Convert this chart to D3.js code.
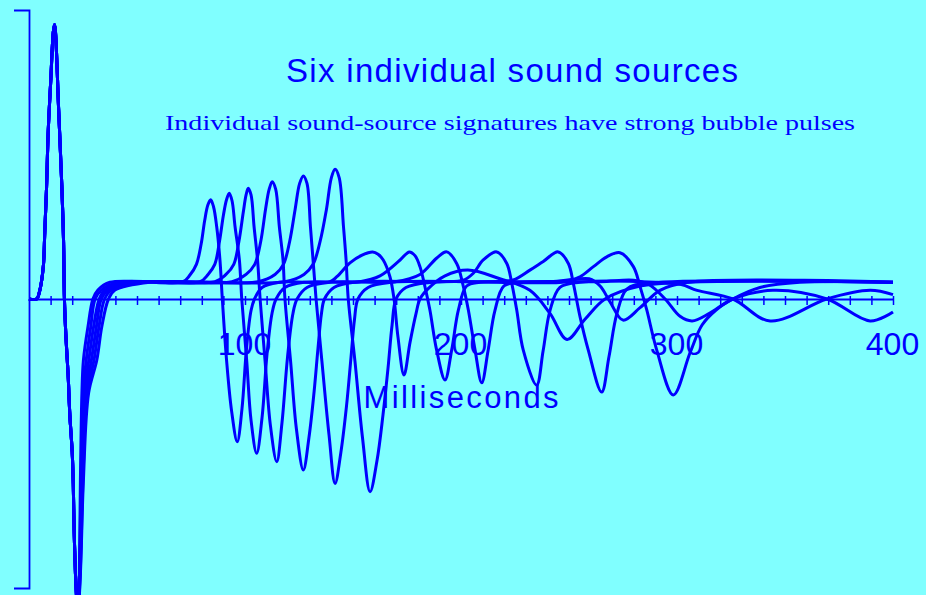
<!DOCTYPE html>
<html lang="en">
<head>
<meta charset="UTF-8">
<title>Six individual sound sources</title>
<script src="https://d3js.org/d3.v7.min.js"></script>
<style>
  body { margin: 0; background: #80ffff; }
  svg { display: block; }
</style>
</head>
<body>
<svg></svg>
<script>
// [milliseconds, amplitude]
const onset = [[0,0],[3.5,0],[5.0,0.03],[6.6,0.11],[7.3,0.23],[8.1,0.38],[8.9,0.58],[10.1,0.76],[11.2,0.92],[11.8,0.95],[12.2,0.93],[13.7,0.66],[15.2,0.39],[16.0,0.2],[16.4,0],[17.1,-0.13],[18.1,-0.26],[18.9,-0.40],[20.0,-0.53],[20.5,-0.64],[20.9,-0.8],[21.5,-0.95],[22.0,-1.03],[22.6,-1.1]];

const source1 = [[23.3,-0.95],[23.8,-0.625],[24.5,-0.325],[25.2,-0.211],[27.3,-0.096],[29.6,0],[31.9,0.031],[37.5,0.058],
  [71.3,0.06],[74.5,0.083],[77.5,0.12],[79.7,0.19],[81.3,0.27],[82.8,0.325],[84.1,0.343],[85.4,0.32],[86.9,0.25],[88.4,0.135],[89.5,0],[91.5,-0.215],[93.8,-0.388],[96.4,-0.494],[98.6,-0.38],[100.7,-0.17],[102.8,-0.04],[104.4,0],[107.9,0.04],[116.2,0.058],
  [139.4,0.06],[142.5,0.077],[148.6,0.125],[154.2,0.152],[159.1,0.163],[161.6,0.155],[164.0,0.135],[167.1,0.077],[169.0,0],[170.8,-0.13],[173.6,-0.263],[176.4,-0.15],[179.2,-0.05],[181.0,0],
  [184.7,0.035],[192.6,0.08],[203.2,0.1],[218,0.07],[231.9,0.03],[241.2,-0.05],[249.1,-0.14],[257.4,-0.07],[266.7,0],[282.9,0.045],[305,0.058],[400,0.058]];

const source2 = [[23.4,-0.95],[24.1,-0.625],[25.1,-0.325],[26.5,-0.211],[28.6,-0.096],[30.6,0],[33.5,0.031],[41.2,0.058],
  [79.2,0.06],[82.9,0.085],[86.0,0.12],[88.2,0.2],[90.0,0.29],[91.5,0.345],[92.7,0.366],[94.0,0.34],[95.4,0.25],[97.4,0.135],[98.5,0],[100.8,-0.215],[102.8,-0.42],[105.4,-0.534],[107.9,-0.41],[110.2,-0.19],[112.5,-0.05],[114.4,0],[118.5,0.04],[127.8,0.058],
  [153.2,0.06],[162.5,0.08],[171.8,0.135],[176.1,0.163],[178.7,0.15],[181.0,0.112],[183.3,0.043],[185.6,-0.038],[188.7,-0.176],[192.6,-0.28],[195.7,-0.176],[198.8,-0.038],[202.6,0.045],[208.8,0.058],
  [241.2,0.06],[252.8,0.068],[259.3,0.07],[264.4,0.045],[269,-0.01],[275,-0.073],[282.9,-0.03],[292.1,0.03],[305,0.058],[400,0.058]];

const source3 = [[23.5,-0.95],[24.4,-0.625],[25.7,-0.325],[27.7,-0.211],[29.9,-0.096],[32.5,0],[35.1,0.031],[44.9,0.058],
  [86.1,0.06],[91.2,0.085],[94.8,0.12],[97.2,0.2],[99.2,0.3],[100.5,0.36],[101.5,0.383],[102.8,0.36],[104.2,0.25],[105.8,0.135],[107.0,0],[109.3,-0.215],[111.8,-0.44],[114.7,-0.563],[117.1,-0.43],[119.7,-0.2],[122.2,-0.05],[124.1,0],[128.7,0.04],[139.4,0.058],
  [169.4,0.06],[181.0,0.085],[188.8,0.142],[193.4,0.163],[198.0,0.123],[201.1,0.043],[203.4,-0.038],[206.5,-0.176],[209.6,-0.29],[212.5,-0.18],[215.7,-0.04],[219.9,0.045],[227.3,0.058],
  [264.4,0.06],[280,0.065],[287,0.05],[294.5,0],[301.4,-0.06],[307,-0.076],[315,-0.05],[325.9,0],[344.4,0.03],[369.4,0],[389.4,-0.076],[400,-0.045]];

const source4 = [[23.6,-0.95],[24.7,-0.625],[26.3,-0.325],[28.9,-0.211],[31.2,-0.096],[33.5,0],[36.7,0.031],[48.6,0.058],
  [94.0,0.06],[100.5,0.085],[104.5,0.12],[107.3,0.2],[109.5,0.31],[111.2,0.38],[112.6,0.406],[114.2,0.38],[115.9,0.25],[117.6,0.135],[118.5,0],[121.1,-0.215],[123.8,-0.45],[127.0,-0.592],[129.6,-0.48],[132.0,-0.32],[133.8,-0.17],[135.4,-0.05],[136.8,0],[141.2,0.04],[150.9,0.058],
  [190.3,0.06],[201.1,0.065],[205.7,0.089],[210.3,0.135],[216.5,0.163],[221.2,0.123],[223.5,0.054],[225.8,-0.038],[228.8,-0.176],[235.0,-0.298],[238.0,-0.18],[241.2,-0.04],[245.8,0.04],[255.1,0.058],
  [290,0.058],[302,0.05],[309.3,0.03],[325.9,0],[343.1,-0.076],[369.4,0],[389.4,0.03],[400,0.015]];

const source5 = [[23.7,-0.95],[25.0,-0.625],[26.9,-0.325],[30.1,-0.211],[32.4,-0.096],[35.0,0],[38.2,0.031],[52.3,0.058],
  [106.0,0.06],[113.9,0.085],[117.8,0.12],[120.7,0.2],[123.2,0.31],[125.3,0.40],[127.0,0.426],[128.7,0.4],[130.3,0.25],[131.5,0.135],[132.9,0],[135.6,-0.215],[138.9,-0.47],[141.7,-0.638],[144.4,-0.53],[147.0,-0.37],[149.1,-0.2],[150.7,-0.07],[152.3,0],[157.0,0.04],[168.1,0.058],
  [215.7,0.06],[224.2,0.066],[231.9,0.10],[238.1,0.13],[245.0,0.163],[249.7,0.123],[252.0,0.054],[255.1,-0.061],[258.9,-0.176],[265.1,-0.322],[268.5,-0.2],[272.2,-0.05],[276.9,0.035],[287.5,0.055],[400,0.058]];

const source6 = [[23.8,-0.95],[25.2,-0.625],[27.6,-0.325],[31.4,-0.211],[33.7,-0.096],[36.8,0],[39.8,0.031],[56.0,0.058],
  [118.5,0.06],[127.3,0.085],[131.5,0.12],[134.8,0.2],[137.7,0.31],[140.0,0.42],[141.7,0.449],[143.6,0.42],[145.6,0.25],[146.8,0.135],[147.8,0],[150.9,-0.215],[154.4,-0.48],[157.9,-0.667],[161.1,-0.56],[163.9,-0.4],[166.2,-0.24],[168.1,-0.09],[169.9,0],[174.5,0.04],[186.6,0.058],
  [248.9,0.06],[255.1,0.077],[261.3,0.112],[267.5,0.146],[273.6,0.16],[279.8,0.112],[282.9,0.043],[286.0,-0.038],[290.6,-0.176],[298.3,-0.332],[306.0,-0.187],[311.6,-0.09],[318.1,-0.038],[325.9,0],[338.4,0.04],[356.9,0.058],[400,0.058]];

const sources = [source1, source2, source3, source4, source5, source6];

const tickValues = d3.range(10, 410, 10);
const tickLabels = [100, 200, 300, 400];

const title = "Six individual sound sources";
const subtitle = "Individual sound-source signatures have strong bubble pulses";
const xTitle = "Milliseconds";

const blue = "#0000ff";
const width = 926, height = 595;

const svg = d3.select("svg")
    .attr("width", width)
    .attr("height", height)
    .style("background", "#80ffff");

const x = d3.scaleLinear().domain([0, 400]).range([29, 893]);
const y = d3.scaleLinear().domain([-1, 1]).range([588, 10]);

// y axis is just a bracket
const yAxis = svg.append("g")
    .attr("transform", `translate(${x(0)},0)`)
    .call(d3.axisLeft(y).tickValues([]).tickSizeOuter(15));
yAxis.select(".domain").attr("stroke", blue).attr("stroke-width", 1.8);

const xAxis = svg.append("g")
    .attr("transform", `translate(0,${y(0)})`)
    .call(d3.axisBottom(x)
        .tickValues(tickValues)
        .tickSizeInner(6)
        .tickSizeOuter(0)
        .tickFormat(d => tickLabels.includes(d) ? d : ""));

xAxis.select(".domain").attr("stroke", blue).attr("stroke-width", 1.8);
xAxis.selectAll(".tick line")
    .attr("stroke", blue)
    .attr("stroke-width", 1.5)
    .attr("y1", -3);
xAxis.selectAll(".tick text")
    .attr("fill", blue)
    .attr("y", 56)
    .attr("dy", 0)
    .attr("dx", -1)
    .style("font-family", "'Liberation Sans', Arial, sans-serif")
    .style("font-size", "32px");

const line = d3.line()
    .x(d => x(d[0]))
    .y(d => y(d[1]))
    .curve(d3.curveCatmullRom.alpha(0.5));

svg.append("g")
    .selectAll("path")
    .data(sources)
    .join("path")
    .attr("d", d => line(onset.concat(d)))
    .attr("fill", "none")
    .attr("stroke", blue)
    .attr("stroke-width", 3)
    .attr("stroke-linejoin", "round");

svg.append("text")
    .attr("x", 512)
    .attr("y", 82)
    .attr("text-anchor", "middle")
    .attr("textLength", 452)
    .attr("fill", blue)
    .style("font-family", "'Liberation Sans', Arial, sans-serif")
    .style("font-size", "33px")
    .text(title);

svg.append("text")
    .attr("x", 510)
    .attr("y", 129.5)
    .attr("text-anchor", "middle")
    .attr("textLength", 690)
    .attr("lengthAdjust", "spacingAndGlyphs")
    .attr("fill", blue)
    .style("font-family", "'Liberation Serif', 'Times New Roman', serif")
    .style("font-size", "22px")
    .text(subtitle);

svg.append("text")
    .attr("x", x(200))
    .attr("y", 408)
    .attr("text-anchor", "middle")
    .attr("textLength", 195)
    .attr("fill", blue)
    .style("font-family", "'Liberation Sans', Arial, sans-serif")
    .style("font-size", "31px")
    .text(xTitle);
</script>
</body>
</html>
